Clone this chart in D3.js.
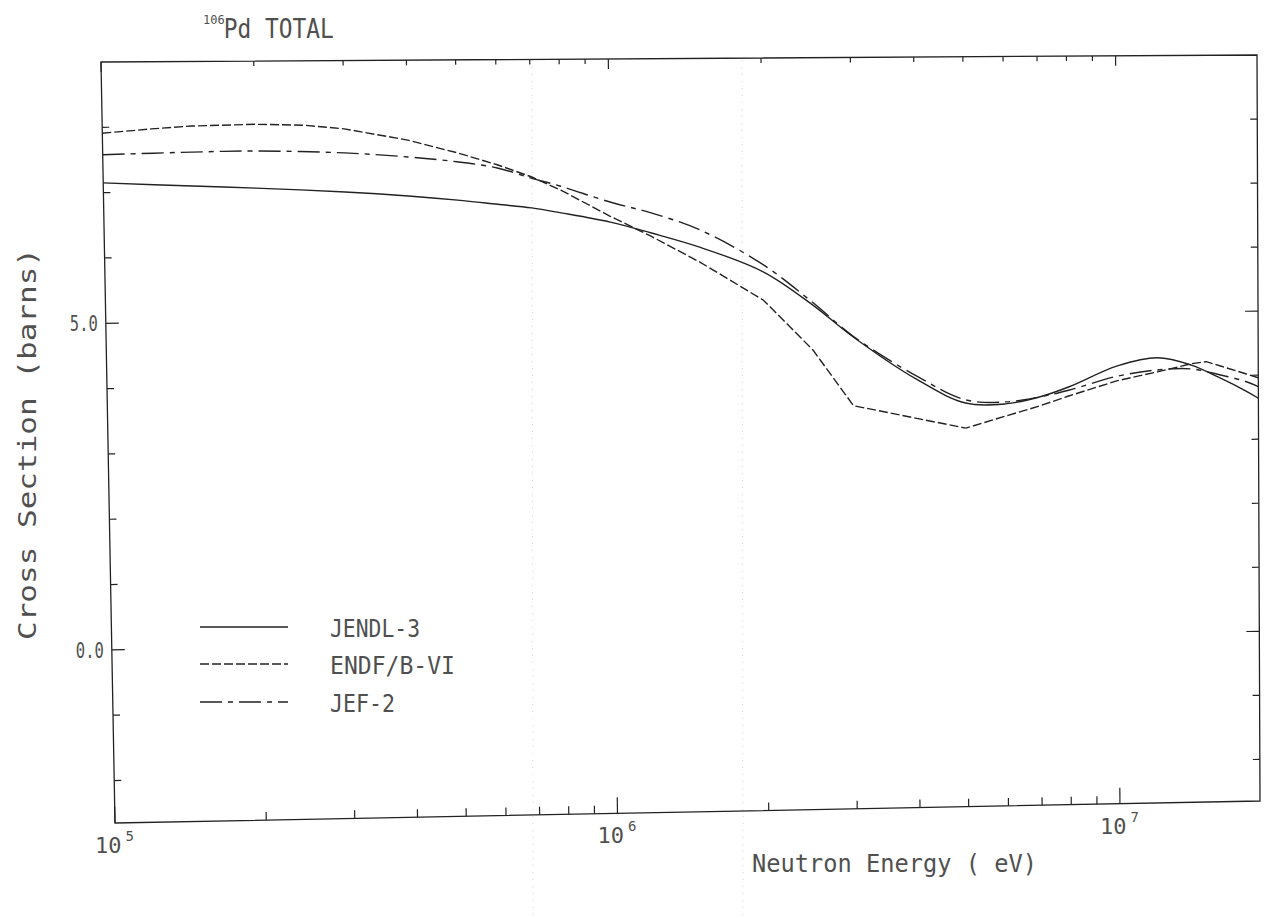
<!DOCTYPE html>
<html><head><meta charset="utf-8">
<script src="https://cdn.jsdelivr.net/npm/d3@7"></script>
<style>
html,body{margin:0;padding:0;background:#fff;}
svg{display:block;}
text{font-family:"DejaVu Sans Mono","Liberation Mono",monospace;fill:#505050;}
</style></head>
<body>
<svg id="chart" width="1276" height="919"></svg>
<script>
// ---- data (energy in eV, cross section in barns) ----
const energies = [1e5,1.5e5,2e5,3e5,4e5,5e5,6e5,7e5,8e5,1e6,1.2e6,1.5e6,2e6,2.5e6,3e6,4e6,5e6,6e6,7e6,8e6,1e7,1.2e7,1.4e7,1.6e7,1.8e7,1.9e7];
const jendl3 = [7.15,7.09,7.05,6.98,6.91,6.84,6.77,6.71,6.63,6.48,6.31,6.08,5.69,5.17,4.67,4.00,3.62,3.60,3.70,3.85,4.17,4.29,4.17,3.96,3.75,3.64];
const jef2   = [7.58,7.61,7.62,7.58,7.51,7.43,7.33,7.17,7.04,6.79,6.62,6.35,5.80,5.21,4.68,4.05,3.67,3.63,3.70,3.80,4.01,4.10,4.11,4.01,3.90,3.82];
const endfEnergies = [1e5,1.25e5,1.5e5,2e5,2.5e5,3e5,4e5,5e5,6e5,7e5,8e5,1e6,1.2e6,1.5e6,2e6,2.5e6,3e6,5e6,6e6,7e6,8e6,1e7,1.2e7,1.4e7,1.5e7,1.6e7,1.8e7,1.9e7];
const endfb6 = [7.91,7.97,8.01,8.03,8.01,7.95,7.77,7.57,7.38,7.19,6.98,6.57,6.26,5.85,5.25,4.47,3.60,3.23,3.41,3.56,3.71,3.94,4.07,4.19,4.22,4.15,4.02,3.96];
const seriesNames = ["JENDL-3","ENDF/B-VI","JEF-2"];
const yTickValues = [-2,-1,0,1,2,3,4,5,6,7,8];
const yLabelValues = [0,5];
const yLabels = ["0.0","5.0"];
const xLabelDecades = [5,6,7];
const titleIso = "106";
const titleMain = "Pd TOTAL";
const xTitle = "Neutron Energy ( eV)";
const yTitle = "Cross Section (barns)";

// ---- scales (normalized plot coords) ----
const x = d3.scaleLog().domain([1e5, 1.9e7]).range([0, 1]);
const y = d3.scaleLinear().domain([9, -2.65]).range([0, 1]);

// the scanned frame is slightly skewed: bilinear map of unit square to page corners
const TL=[101,62], TR=[1257,55], BL=[115,823], BR=[1260,801];
function P(u,v){
  const tx=TL[0]+(TR[0]-TL[0])*u, ty=TL[1]+(TR[1]-TL[1])*u;
  const bx=BL[0]+(BR[0]-BL[0])*u, by=BL[1]+(BR[1]-BL[1])*u;
  return [tx+(bx-tx)*v, ty+(by-ty)*v];
}
const W = 1150, H = 755;

const svg = d3.select("#chart");
svg.append("rect").attr("width",1276).attr("height",919).attr("fill","#fff");

// faint scan artifacts (vertical dotted traces)
[532,742].forEach(px=>{
  svg.append("line").attr("x1",px).attr("x2",px+1).attr("y1",60).attr("y2",919)
    .attr("stroke","#c4c4c4").attr("stroke-width",0.8).attr("stroke-dasharray","1,6");
});

const g = svg.append("g");
const ink = "#222";

// frame
const corners = [P(0,0),P(1,0),P(1,1),P(0,1)];
g.append("path").attr("d", "M"+corners.map(c=>c.join(",")).join("L")+"Z")
  .attr("fill","none").attr("stroke",ink).attr("stroke-width",1.3);

// x ticks (bottom and top)
x.ticks().forEach(t=>{
  const u = x(t);
  const major = Math.abs(Math.log10(t)-Math.round(Math.log10(t)))<1e-9;
  const L = major ? 16 : 8;
  const b0 = P(u,1), b1 = P(u,1-L/H);
  g.append("line").attr("x1",b0[0]).attr("y1",b0[1]).attr("x2",b1[0]).attr("y2",b1[1])
    .attr("stroke",ink).attr("stroke-width",1.2);
  const t0 = P(u,0), t1 = P(u,(major?10:5)/H);
  g.append("line").attr("x1",t0[0]).attr("y1",t0[1]).attr("x2",t1[0]).attr("y2",t1[1])
    .attr("stroke",ink).attr("stroke-width",1.2);
});
// y ticks (left and right)
yTickValues.forEach(t=>{
  const v = y(t);
  const major = yLabelValues.includes(t);
  const L = major ? 13 : 7;
  const l0 = P(0,v), l1 = P(L/W,v);
  g.append("line").attr("x1",l0[0]).attr("y1",l0[1]).attr("x2",l1[0]).attr("y2",l1[1])
    .attr("stroke",ink).attr("stroke-width",1.2);
  const r0 = P(1,v), r1 = P(1-L/W,v);
  g.append("line").attr("x1",r0[0]).attr("y1",r0[1]).attr("x2",r1[0]).attr("y2",r1[1])
    .attr("stroke",ink).attr("stroke-width",1.2);
});

// y tick labels
yLabelValues.forEach((t,i)=>{
  const p = P(0,y(t));
  g.append("text").attr("x",p[0]-8).attr("y",p[1]+8).attr("text-anchor","end")
    .attr("font-size",21).attr("textLength",28).attr("lengthAdjust","spacingAndGlyphs")
    .text(yLabels[i]);
});
// x tick labels 10^n
xLabelDecades.forEach(d=>{
  const p = P(x(Math.pow(10,d)),1);
  const tx = g.append("text").attr("x",p[0]-20).attr("y",p[1]+30).attr("font-size",22);
  tx.append("tspan").text("10");
  tx.append("tspan").attr("dx",4).attr("dy",-12).attr("font-size",14).text(String(d));
});

// curves
const mk = c => d3.line()
  .x(d=>P(x(d[0]),y(d[1]))[0])
  .y(d=>P(x(d[0]),y(d[1]))[1]).curve(c);
const dataJ = energies.map((e,i)=>[e,jendl3[i]]);
const dataF = energies.map((e,i)=>[e,jef2[i]]);
const dataE = endfEnergies.map((e,i)=>[e,endfb6[i]]);
const styles = {"JENDL-3": null, "ENDF/B-VI": "9,3", "JEF-2": "22,6,5,6"};
g.append("path").attr("d", mk(d3.curveCatmullRom.alpha(0.5))(dataJ))
  .attr("fill","none").attr("stroke",ink).attr("stroke-width",1.4);
g.append("path").attr("d", mk(d3.curveLinear)(dataE))
  .attr("fill","none").attr("stroke",ink).attr("stroke-width",1.4).attr("stroke-dasharray",styles["ENDF/B-VI"]);
g.append("path").attr("d", mk(d3.curveCatmullRom.alpha(0.5))(dataF))
  .attr("fill","none").attr("stroke",ink).attr("stroke-width",1.4).attr("stroke-dasharray",styles["JEF-2"]);

// legend
const legY = [627,664,702];
const lens = [90,125,65];
seriesNames.forEach((n,i)=>{
  const ln = g.append("line").attr("x1",200).attr("x2",288).attr("y1",legY[i]).attr("y2",legY[i])
    .attr("stroke",ink).attr("stroke-width",1.4);
  if (styles[n]) ln.attr("stroke-dasharray", styles[n]);
  g.append("text").attr("x",330).attr("y",legY[i]+10).attr("font-size",25)
    .attr("textLength",lens[i]).attr("lengthAdjust","spacingAndGlyphs").text(n);
});

// titles
const tt = svg.append("text").attr("x",203).attr("y",38).attr("font-size",26);
tt.append("tspan").attr("font-size",12).attr("dy",-14).text(titleIso);
tt.append("tspan").attr("dx",-1).attr("dy",14).attr("textLength",110).attr("lengthAdjust","spacingAndGlyphs").text(titleMain);

svg.append("text").attr("x",752).attr("y",872).attr("font-size",24)
  .attr("textLength",285).attr("lengthAdjust","spacingAndGlyphs").text(xTitle);
svg.append("text").attr("transform","translate(36,640) rotate(-90)").attr("font-size",24)
  .attr("textLength",392).attr("lengthAdjust","spacingAndGlyphs").text(yTitle);
</script>
</body></html>
